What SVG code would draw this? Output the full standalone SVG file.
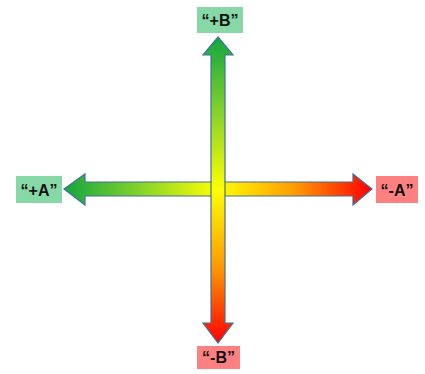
<svg xmlns="http://www.w3.org/2000/svg" width="425" height="374" viewBox="0 0 425 374">
<defs>
<linearGradient id="gv" gradientUnits="userSpaceOnUse" x1="0" y1="37" x2="0" y2="343">
<stop offset="0" stop-color="#12a63e"/>
<stop offset="0.25" stop-color="#86d32a"/>
<stop offset="0.5" stop-color="#ffff00"/>
<stop offset="0.75" stop-color="#ff9a00"/>
<stop offset="1" stop-color="#ff0000"/>
</linearGradient>
<linearGradient id="gh" gradientUnits="userSpaceOnUse" x1="64" y1="0" x2="372" y2="0">
<stop offset="0" stop-color="#12a63e"/>
<stop offset="0.25" stop-color="#86d32a"/>
<stop offset="0.5" stop-color="#ffff00"/>
<stop offset="0.75" stop-color="#ff9a00"/>
<stop offset="1" stop-color="#ff0000"/>
</linearGradient>
</defs>
<style>
.arrow{stroke:#41719c;stroke-width:1.2;stroke-linejoin:miter}
.pos{fill:#86d9a6}
.neg{fill:#ff8080}
.lbl{font-family:"Liberation Sans",Arial,sans-serif;font-weight:bold;font-size:16px;fill:#111;text-anchor:middle}
</style>
<g id="connectors">
<polygon id="axisA" class="arrow" fill="url(#gh)" points="64,189 85,174 85,182 353,182 353,174 372,189 353,205 353,196 85,196 85,205"/>
<polygon id="axisB" class="arrow" fill="url(#gv)" points="218,37 233,55 225,55 225,323 233,323 218,343 203,323 211,323 211,55 203,55"/>
</g>
<g id="plusB">
<rect class="pos" x="197" y="7" width="46" height="26"/>
<text class="lbl" x="220" y="26">“+B”</text>
</g>
<g id="plusA">
<rect class="pos" x="16" y="176" width="46" height="27"/>
<text class="lbl" x="39" y="195.5">“+A”</text>
</g>
<g id="minusA">
<rect class="neg" x="376" y="176" width="42" height="27"/>
<text class="lbl" x="397" y="195.5">“-A”</text>
</g>
<g id="minusB">
<rect class="neg" x="197" y="346" width="43" height="23"/>
<text class="lbl" x="218.5" y="363">“-B”</text>
</g>
</svg>
